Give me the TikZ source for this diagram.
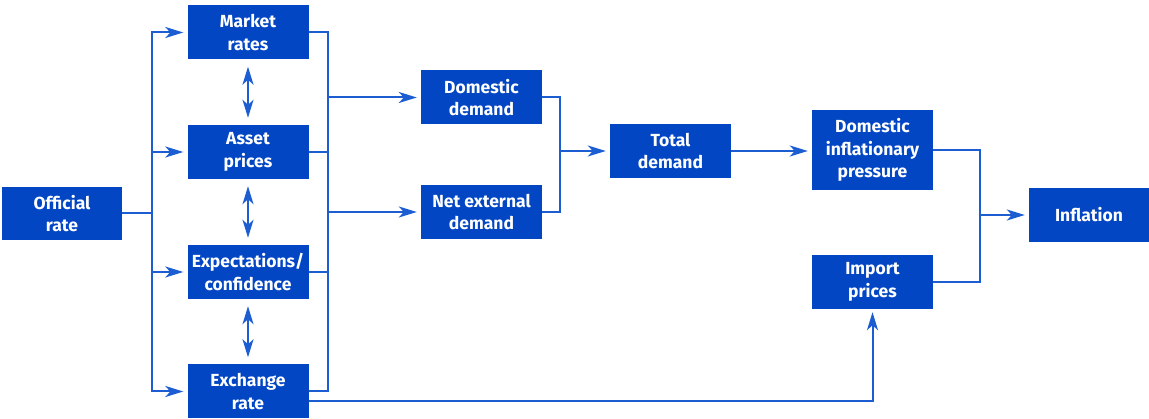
\documentclass[tikz,border=0pt]{standalone}
\usepackage{fontspec}
\setmainfont{Fira Sans}
\usetikzlibrary{arrows.meta}

\definecolor{boxblue}{RGB}{2,70,196}
\definecolor{lineblue}{RGB}{28,94,210}

\begin{document}
\begin{tikzpicture}[x=1pt,y=-1pt]
	\tikzset{block/.style = {shape=rectangle,fill=boxblue,text=white,align=center,inner sep=0pt,
		font=\fontsize{17.5}{22.5}\selectfont\bfseries,minimum width=121pt,minimum height=54pt}}
	
	\tikzset{link/.style = {draw=lineblue,line width=2pt}}
	
	\tikzset{arrow/.style = {link,-{Stealth[length=18pt,width=11pt,inset=5pt]},shorten >=4pt}}
	
	\tikzset{twoway/.style = {link,{Stealth[length=18pt,width=11pt,inset=5pt]}-{Stealth[length=18pt,width=11pt,inset=5pt]},shorten <=7pt,shorten >=7pt}}
	
	\useasboundingbox (0,0) rectangle (1149,419);
	
	% vertices
	
	\node[block,minimum width=120pt,minimum height=53pt] (official) at (62,213.5) {Official\\rate};
	
	\node[block] (market) at (248,32.5) {Market\\rates};
	
	\node[block] (asset) at (248,152) {Asset\\prices};
	
	\node[block] (expect) at (248,272) {Expectations/\\confidence};
	
	\node[block] (exchange) at (248,391.5) {Exchange\\rate};
	
	\node[block] (domestic) at (481.5,97.5) {Domestic\\demand};
	
	\node[block] (netext) at (481.5,212) {Net external\\demand};
	
	\node[block] (total) at (670.5,151) {Total\\demand};
	
	\node[block,minimum height=80pt] (dip) at (872.5,150) {Domestic\\inflationary\\pressure};
	
	\node[block] (imports) at (872.5,282) {Import\\prices};
	
	\node[block,minimum width=120pt] (inflation) at (1089,215) {Inflation};
	
	% buses
	
	\coordinate (lbus) at (152,0);
	
	\coordinate (rbus) at (328,0);
	
	\coordinate (dbus) at (560,0);
	
	\coordinate (ibus) at (980,0);
	
	%edges
	
	\draw[link] (official.east) -- (official.east -| lbus);
	\draw[link,line cap=rect] (lbus |- market) -- (lbus |- exchange);
	\foreach \n in {market,asset,expect,exchange}
		\draw[arrow] (lbus |- \n) -- (\n.west);
	
	\draw[twoway] (market.south) -- (asset.north);
	\draw[twoway] (asset.south) -- (expect.north);
	\draw[twoway] (expect.south) -- (exchange.north);
	
	\draw[link] (market.east) -| (rbus |- exchange) -- (exchange.east);
	\draw[link] (asset.east) -- (asset.east -| rbus);
	\draw[link] (expect.east) -- (expect.east -| rbus);
	\draw[arrow] (rbus |- domestic) -- (domestic.west);
	\draw[arrow] (rbus |- netext) -- (netext.west);
	
	\draw[link] (domestic.east) -| (dbus |- netext) -- (netext.east);
	\draw[arrow] (dbus |- total) -- (total.west);
	
	\draw[arrow] (total.east) -- (total.east -| dip.west);
	
	\draw[link] (dip.east) -| (ibus |- imports) -- (imports.east);
	\draw[arrow] (ibus |- inflation) -- (inflation.west);
	
	\draw[arrow,shorten >=3pt] ([yshift=-10pt]exchange.east) -| (imports.south);
\end{tikzpicture}
\end{document}
